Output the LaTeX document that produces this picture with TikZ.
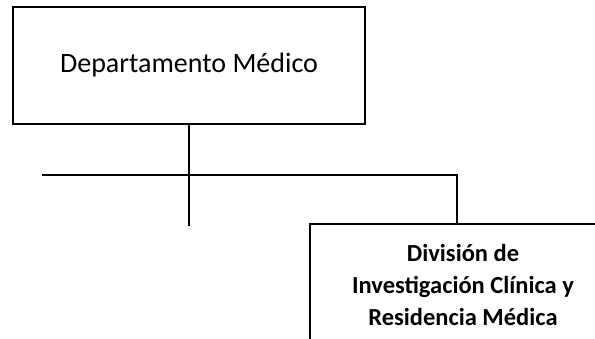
\documentclass[tikz,border=0pt]{standalone}
\usepackage{fontspec}
\setmainfont{Carlito}
\begin{document}
\begin{tikzpicture}[x=1pt,y=-1pt,
  box/.style={draw=black,line width=1.6pt,fill=white,inner sep=0pt,align=center},
  conn/.style={draw=black,line width=1.6pt}]
\useasboundingbox (0,0) rectangle (595,339);
\clip (0,0) rectangle (595,339);
\node[box,minimum width=352.5pt,minimum height=117pt,font=\fontsize{28}{32}\selectfont] (top) at (189,65.5) {Departamento Médico};
\node[box,minimum width=306pt,minimum height=122pt,font=\bfseries\fontsize{24.5}{32}\selectfont] (bot) at (463,285) {División de\\Investigación Clínica y\\Residencia Médica};
\coordinate (hl) at (42,175);
\coordinate (hr) at (457,175);
\coordinate (vend) at (189,226);
\draw[conn] (top.south) -- (vend);
\draw[conn] (hl) -- (hr) -- (hr |- bot.north);
\end{tikzpicture}
\end{document}
